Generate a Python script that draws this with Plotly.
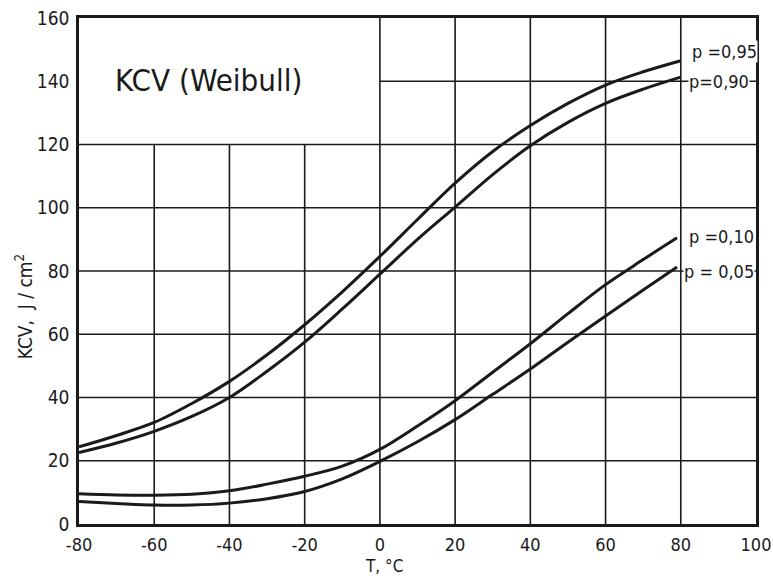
import plotly.graph_objects as go

# ---- data ----
T_hi = [-80, -70, -60, -50, -40, -30, -20, -10, 0, 10, 20, 30, 40, 50, 60, 70, 80]
kcv_p95 = [24.4, 28, 32.1, 38.1, 45.1, 53.5, 63, 73.4, 84.6, 96.3, 107.8, 117.8, 126, 133, 138.8, 143, 146.5]
kcv_p90 = [22.6, 25.6, 29.3, 34, 40, 48.3, 57.5, 68, 79, 90, 100.2, 110.5, 119.6, 127, 133, 137.5, 141.3]

T_lo = [-80, -70, -60, -50, -40, -30, -20, -10, 0, 10, 20, 30, 40, 50, 60, 70, 79]
kcv_p10 = [9.6, 9.2, 9.1, 9.4, 10.5, 12.6, 15.1, 18.3, 23.6, 31, 39, 48, 57, 66.5, 75.7, 83.6, 90.5]
kcv_p05 = [7.1, 6.5, 6.0, 6.0, 6.6, 8.0, 10.3, 14.3, 19.8, 26, 33, 41, 49, 57.5, 65.8, 74, 81.3]

series_names = ["p =0,95", "p=0,90", "p =0,10", "p = 0,05"]

x_ticks = [-80, -60, -40, -20, 0, 20, 40, 60, 80, 100]
x_ticktext = ["-80", "-60", "-40", "-20", "0", "20", "40", "60", "80", "100"]
y_ticks = [0, 20, 40, 60, 80, 100, 120, 140, 160]
y_ticktext = ["0", "20", "40", "60", "80", "100", "120", "140", "160"]

title_text = "KCV (Weibull)"
x_title = "T, °C"
y_title = "KCV,&nbsp;&nbsp;J&nbsp;/&nbsp;cm<sup>2</sup>"

# ---- style ----
FONT = "DejaVu Sans Condensed, Liberation Sans Narrow, DejaVu Sans, sans-serif"
INK = "#1a1a1a"

fig = go.Figure()
for xs, ys in [(T_hi, kcv_p95), (T_hi, kcv_p90), (T_lo, kcv_p10), (T_lo, kcv_p05)]:
    fig.add_trace(go.Scatter(x=xs, y=ys, mode="lines",
                             line=dict(color=INK, width=3, shape="spline", smoothing=1.0),
                             showlegend=False, hoverinfo="skip"))

# grid (omitting the title box region x<0, y>120)
xmin, xmax = x_ticks[0], x_ticks[-1]
ymin, ymax = y_ticks[0], y_ticks[-1]
box_x, box_y = 0, 120
shapes = []
for gx in x_ticks[1:-1]:
    top = box_y if gx < box_x else ymax
    shapes.append(dict(type="line", xref="x", yref="y", x0=gx, x1=gx, y0=ymin, y1=top,
                       line=dict(color=INK, width=1.6), layer="below"))
for gy in y_ticks[1:-1]:
    left = box_x if gy > box_y else xmin
    shapes.append(dict(type="line", xref="x", yref="y", x0=left, x1=xmax, y0=gy, y1=gy,
                       line=dict(color=INK, width=1.6), layer="below"))

label_x = [82.8, 82, 81.8, 80.6]
label_y = [149.5, 140, 91, 80]
annotations = []
for name, lx, ly in zip(series_names, label_x, label_y):
    annotations.append(dict(x=lx, y=ly, xref="x", yref="y", text=name, showarrow=False,
                            xanchor="left", yanchor="middle", bgcolor="white",
                            borderpad=0, font=dict(family=FONT, size=18, color=INK)))
annotations.append(dict(x=-45.5, y=140.5, xref="x", yref="y", text=title_text, showarrow=False,
                        xanchor="center", yanchor="middle",
                        font=dict(family=FONT, size=31, color=INK)))
# axis titles
annotations.append(dict(x=1, y=-0.104, xref="x", yref="paper", text=x_title, showarrow=False,
                        xanchor="center", yanchor="bottom", borderpad=0,
                        font=dict(family=FONT, size=17, color=INK)))
annotations.append(dict(x=-0.08, y=0.43, xref="paper", yref="paper", text=y_title,
                        showarrow=False, textangle=-90, xanchor="center", yanchor="middle",
                        font=dict(family=FONT, size=19, color=INK)))

fig.update_layout(
    width=773, height=578,
    margin=dict(l=79, r=17, t=18, b=54),
    paper_bgcolor="white", plot_bgcolor="white",
    font=dict(family=FONT, size=19, color=INK),
    shapes=shapes, annotations=annotations,
    xaxis=dict(range=[xmin, xmax], tickvals=x_ticks, ticktext=x_ticktext,
               showgrid=False, zeroline=False, showline=True, linecolor=INK,
               linewidth=2.5, mirror=True, ticks="", automargin=False,
               ticklabelstandoff=3, ticklabeloverflow="allow",
               tickfont=dict(family=FONT, size=18)),
    yaxis=dict(range=[ymin, ymax], tickvals=y_ticks, ticktext=y_ticktext,
               showgrid=False, zeroline=False, showline=True, linecolor=INK,
               linewidth=2.5, mirror=True, ticks="", automargin=False,
               ticklabelstandoff=3, ticklabeloverflow="allow",
               tickfont=dict(family=FONT, size=19)),
)

fig.write_html("out.html", config={"displayModeBar": False},
               post_script="document.body.style.margin='0';document.body.style.overflow='hidden';")
